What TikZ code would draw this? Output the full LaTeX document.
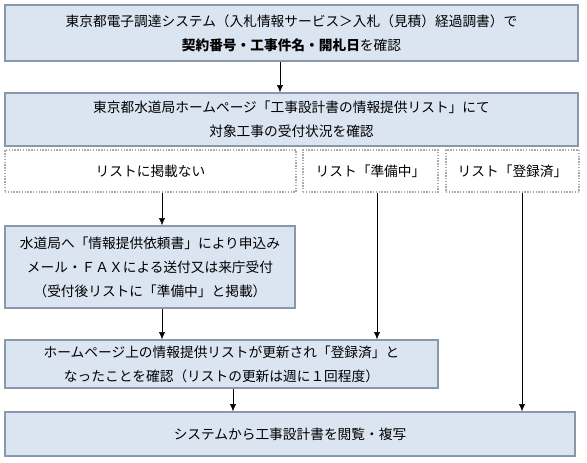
\documentclass[tikz,border=0pt]{standalone}
\usepackage{fontspec}
\setmainfont{Noto Sans CJK JP}
\usetikzlibrary{arrows.meta}
\definecolor{boxfill}{RGB}{219,229,242}
\definecolor{boxline}{RGB}{138,152,172}
\definecolor{dotline}{RGB}{170,170,170}
\begin{document}
\begin{tikzpicture}[x=1pt, y=-1pt,
    box/.style={draw=boxline, fill=boxfill, line width=1.6pt, align=center, inner sep=0pt,
        font=\fontsize{13.7}{24}\selectfont},
    case/.style={draw=dotline, dash pattern=on 1.4pt off 1.4pt, line width=1.4pt, align=center,
        inner sep=0pt, font=\fontsize{13.7}{24}\selectfont},
    arr/.style={-{Latex[length=7pt,width=6pt]}, thin}]
    \useasboundingbox (0,0) rectangle (587,463);

    % top boxes
    \node[box, minimum width=573pt, minimum height=56pt] (check) at (291.5,33)
        {東京都電子調達システム（入札情報サービス＞入札（見積）経過調書）で\\
         \textbf{契約番号・工事件名・開札日}を確認};
    \node[box, minimum width=573pt, minimum height=53pt] (list) at (291.5,119.5)
        {東京都水道局ホームページ「工事設計書の情報提供リスト」にて\\
         対象工事の受付状況を確認};

    % three cases
    \node[case, minimum width=291pt, minimum height=42pt] (none) at (150.5,171) {リストに掲載ない};
    \node[case, minimum width=135pt, minimum height=42pt] (prep) at (370.5,171) {リスト「準備中」};
    \node[case, minimum width=133pt, minimum height=42pt] (done) at (512.5,171) {リスト「登録済」};

    % lower boxes
    \node[box, minimum width=290pt, minimum height=82pt] (apply) at (150,267)
        {水道局へ「情報提供依頼書」により申込み\\
         メール・ＦＡＸによる送付又は来庁受付\\
         （受付後リストに「準備中」と掲載）};
    \node[box, minimum width=433pt, minimum height=48pt] (update) at (221.5,364)
        {ホームページ上の情報提供リストが更新され「登録済」と\\
         なったことを確認（リストの更新は週に１回程度）};
    \node[box, minimum width=570pt, minimum height=44pt] (view) at (290,434)
        {システムから工事設計書を閲覧・複写};

    % arrows
    \draw[arr] ([xshift=-11.5pt]check.south) -- ([xshift=-11.5pt]list.north);
    \draw[arr] ([xshift=11.5pt]none.south) -- ([xshift=12pt]apply.north);
    \draw[arr] ([xshift=12pt]apply.south) -- ([xshift=-59.5pt]update.north);
    \draw[arr] ([xshift=6.5pt]prep.south) -- ([xshift=155.5pt]update.north);
    \draw[arr] ([xshift=11.5pt]update.south) -- ([xshift=-57pt]view.north);
    \draw[arr] ([xshift=9.5pt]done.south) -- ([xshift=232pt]view.north);
\end{tikzpicture}
\end{document}
